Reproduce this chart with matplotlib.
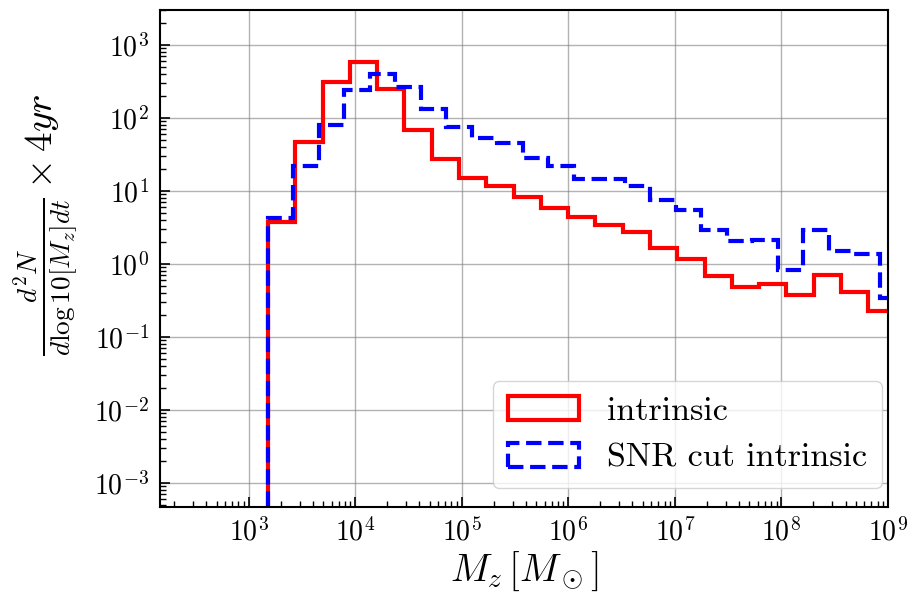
import numpy as np
import matplotlib
matplotlib.use('Agg')
import matplotlib.pyplot as plt
from matplotlib.ticker import LogLocator, NullFormatter

# LaTeX-like look without a TeX install
plt.rcParams['font.family'] = 'serif'
plt.rcParams['font.serif'] = ['cmr10']
plt.rcParams['mathtext.fontset'] = 'cm'
plt.rcParams['axes.formatter.use_mathtext'] = True

# bin edges in log10(M_z)
red_edges_log = [3.181, 3.437, 3.693, 3.949, 4.205, 4.462, 4.718, 4.974, 5.230,
                 5.486, 5.742, 5.998, 6.254, 6.510, 6.766, 7.023, 7.279, 7.535,
                 7.791, 8.047, 8.303, 8.559, 8.815, 9.071]
red_counts = [3.8, 46.6, 308, 580, 250, 68, 27.2, 15, 11.5, 8.2, 5.8, 4.4,
              3.44, 2.7, 1.65, 1.16, 0.68, 0.48, 0.53, 0.37, 0.71, 0.41, 0.224]

blue_edges_log = [3.181, 3.420, 3.660, 3.899, 4.138, 4.378, 4.617, 4.856, 5.095,
                  5.335, 5.574, 5.813, 6.053, 6.292, 6.531, 6.771, 7.010, 7.249,
                  7.488, 7.728, 7.967, 8.206, 8.446, 8.685, 8.924, 9.164]
blue_counts = [4.25, 21.6, 80, 237, 398, 264, 132, 76, 52.8, 45, 28, 21.6,
               14.7, 14.7, 11.5, 7.55, 5.5, 2.87, 2.03, 2.1, 0.83, 2.87,
               1.51, 1.36, 0.34]


def draw_hist(ax, edges_log, counts, **kw):
    edges_log = np.array(edges_log)
    mids = 10 ** ((edges_log[:-1] + edges_log[1:]) / 2)
    ax.hist(mids, bins=10 ** edges_log, weights=counts, histtype='step', log=True, **kw)


fig = plt.figure(figsize=(9.12, 5.94), dpi=100)
ax = fig.add_axes([0.1754, 0.1465, 0.7982, 0.8367])

draw_hist(ax, red_edges_log, red_counts, color='red', lw=3, label='intrinsic')
draw_hist(ax, blue_edges_log, blue_counts, color='blue', lw=3, ls='--',
          label='SNR cut intrinsic')

ax.set_xscale('log')
ax.set_yscale('log', nonpositive='clip')
ax.set_xlim(1.47e2, 1e9)
ax.set_ylim(4.7e-4, 3e3)

for axis in (ax.xaxis, ax.yaxis):
    axis.set_major_locator(LogLocator(base=10, numticks=100))
    axis.set_minor_locator(LogLocator(base=10, subs=np.arange(2, 10), numticks=100))
    axis.set_minor_formatter(NullFormatter())

ax.tick_params(which='both', direction='in', top=False, right=False, labelsize=20)
ax.tick_params(which='major', length=7, width=1.2, pad=8)
ax.tick_params(which='minor', length=4, width=1)
for s in ax.spines.values():
    s.set_linewidth(1.5)

ax.grid(True, which='major', color='gray', alpha=0.6, lw=1)

ax.set_xlabel(r'$M_z\,[M_\odot]$', fontsize=28, labelpad=2)
ax.set_ylabel(r'$\frac{d^2N}{d\log10[M_z]dt}\times 4yr$', fontsize=28)
ax.yaxis.set_label_coords(-0.11, 0.567)

ax.legend(loc='lower right', bbox_to_anchor=(0.992, 0.038), borderaxespad=0,
          fontsize=24.5, handlelength=2.1, handletextpad=0.8, borderpad=0.45)

fig.savefig('out.png', dpi=100)
